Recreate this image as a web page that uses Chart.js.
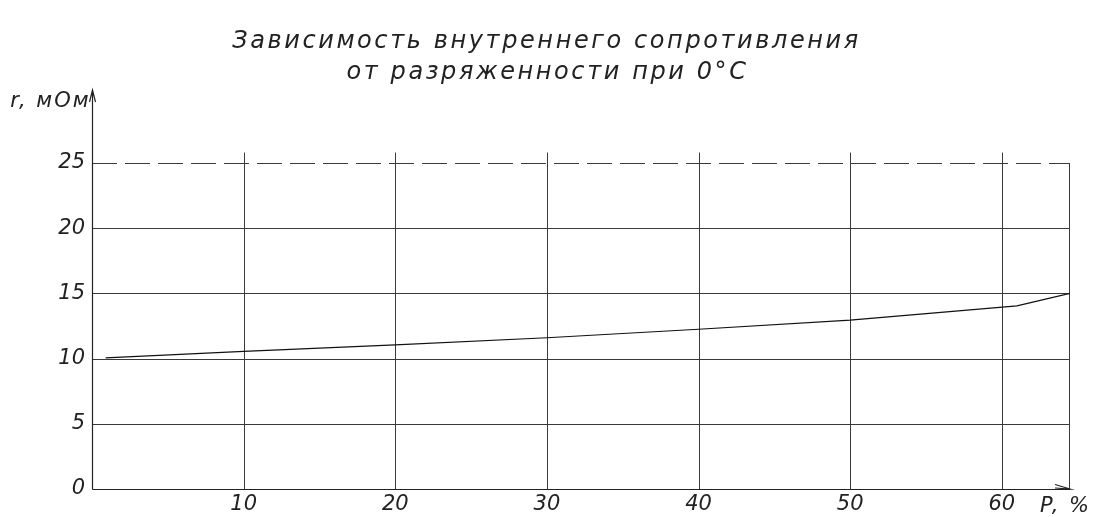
<!DOCTYPE html>
<html>
<head>
<meta charset="utf-8">
<script src="https://cdn.jsdelivr.net/npm/chart.js@4"></script>
<style>
  html, body { margin: 0; padding: 0; background: #fff; }
  #wrap { width: 1097px; height: 517px; position: relative; }
</style>
</head>
<body>
<div id="wrap"><canvas id="chart"></canvas></div>
<script>
// ── Data ───────────────────────────────────────
const TITLE_LINES = ['Зависимость внутреннего сопротивления', 'от разряженности при 0°C'];
const X_LABEL = 'P, %';
const Y_LABEL = 'r, мОм';

const P_VALUES = [0.9, 10, 20, 30, 40, 50, 61, 64.5];        // разряженность, %
const R_VALUES = [10.05, 10.55, 11.05, 11.6, 12.25, 12.95, 14.05, 15]; // сопротивление, мОм

const X_TICKS = [10, 20, 30, 40, 50, 60];
const Y_TICKS = [0, 5, 10, 15, 20, 25];
const X_MAX = 64.5;
const Y_MAX = 30.6;

const FONT = 'DejaVu Sans';
const INK = '#222';
const GRID = '#3a3a3a';

// ── Drafting-style grid, axes, arrows and captions ──
const drafting = {
  id: 'drafting',
  beforeDatasetsDraw(chart) {
    const { ctx, scales: { x, y } } = chart;
    const x0 = x.getPixelForValue(0), xEnd = x.getPixelForValue(X_MAX);
    const y0 = y.getPixelForValue(0);
    const yTop = Y_TICKS[Y_TICKS.length - 1];
    ctx.save();
    ctx.strokeStyle = GRID;
    ctx.lineWidth = 1;
    // horizontal lines, top one dashed
    Y_TICKS.slice(1).forEach(v => {
      const py = Math.round(y.getPixelForValue(v)) + 0.5;
      ctx.setLineDash(v === yTop ? [25, 8] : []);
      ctx.beginPath(); ctx.moveTo(x0, py); ctx.lineTo(xEnd, py); ctx.stroke();
    });
    ctx.setLineDash([]);
    // vertical lines, a bit past the dashed line
    X_TICKS.forEach(v => {
      const px = Math.round(x.getPixelForValue(v)) + 0.5;
      ctx.beginPath(); ctx.moveTo(px, y0); ctx.lineTo(px, y.getPixelForValue(yTop + 0.8)); ctx.stroke();
    });
    // right frame
    const pr = Math.round(xEnd) - 0.5;
    ctx.beginPath(); ctx.moveTo(pr, y0); ctx.lineTo(pr, y.getPixelForValue(yTop)); ctx.stroke();
    ctx.restore();
  },
  afterDraw(chart) {
    const { ctx, scales: { x, y } } = chart;
    const x0 = Math.round(x.getPixelForValue(0)) + 0.5;
    const y0 = Math.round(y.getPixelForValue(0)) + 0.5;
    const xEnd = x.getPixelForValue(X_MAX);
    const yEnd = y.getPixelForValue(Y_MAX);
    ctx.save();
    ctx.strokeStyle = '#222';
    ctx.lineWidth = 1.2;
    ctx.beginPath();
    ctx.moveTo(x0, y0); ctx.lineTo(x0, yEnd);
    ctx.moveTo(x0, y0); ctx.lineTo(xEnd, y0);
    // arrow heads
    ctx.moveTo(x0 - 3, yEnd + 12); ctx.lineTo(x0, yEnd); ctx.lineTo(x0 + 3, yEnd + 12);
    ctx.moveTo(xEnd - 15, y0 - 5); ctx.lineTo(xEnd, y0 - 0.5); ctx.lineTo(xEnd - 15, y0 - 1.5);
    ctx.stroke();

    ctx.fillStyle = INK;
    ctx.textBaseline = 'middle';
    // axis captions
    ctx.font = `italic 21px "${FONT}"`;
    ctx.letterSpacing = '2px';
    ctx.textAlign = 'right';
    ctx.fillText(Y_LABEL, x0 - 2, yEnd + 12);
    ctx.textAlign = 'left';
    ctx.fillText(X_LABEL, xEnd - 30, y0 + 17);
    // title, wide spacing like drafting lettering
    ctx.font = `italic 24px "${FONT}"`;
    ctx.letterSpacing = '2.6px';
    ctx.textAlign = 'center';
    const cx = chart.width / 2;
    ctx.fillText(TITLE_LINES[0], cx - 2, 42);
    ctx.fillText(TITLE_LINES[1], cx - 1, 73);
    ctx.restore();
  },
};

const tickFont = { family: FONT, size: 21, style: 'italic' };

new Chart(document.getElementById('chart'), {
  type: 'line',
  data: {
    datasets: [{
      data: P_VALUES.map((p, i) => ({ x: p, y: R_VALUES[i] })),
      borderColor: '#111',
      borderWidth: 1.2,
      pointRadius: 0,
      tension: 0,
      fill: false,
    }],
  },
  options: {
    responsive: true,
    maintainAspectRatio: false,
    animation: false,
    layout: { padding: { left: 0, right: 27, top: 90, bottom: 0 } },
    plugins: {
      legend: { display: false },
      tooltip: { enabled: false },
      title: { display: false },
    },
    scales: {
      x: {
        type: 'linear',
        min: 0,
        max: X_MAX,
        grid: { display: false, drawTicks: false },
        border: { display: false },
        afterBuildTicks: s => { s.ticks = X_TICKS.map(v => ({ value: v })); },
        afterFit: s => { s.height = 28; },
        ticks: { font: tickFont, color: INK, padding: 3, maxRotation: 0 },
      },
      y: {
        min: 0,
        max: Y_MAX,
        grid: { display: false, drawTicks: false },
        border: { display: false },
        afterBuildTicks: s => { s.ticks = Y_TICKS.map(v => ({ value: v })); },
        afterFit: s => { s.width = 92; },
        ticks: { font: tickFont, color: INK, padding: 7 },
      },
    },
  },
  plugins: [drafting],
});
</script>
</body>
</html>
